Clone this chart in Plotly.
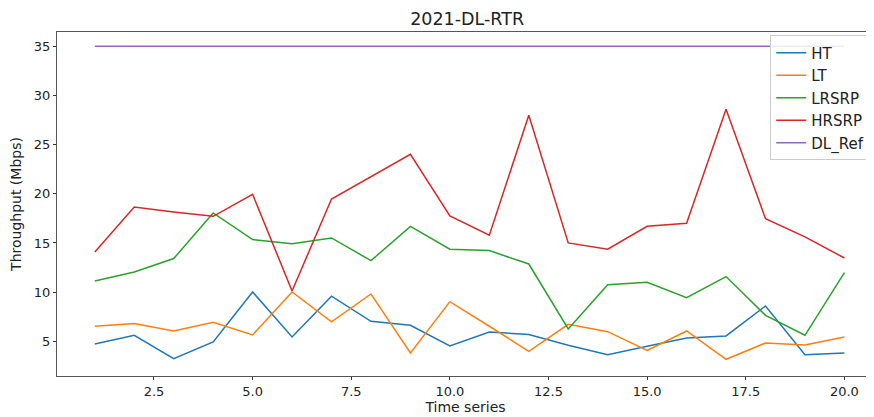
"""
Recreate the 2021-DL-RTR throughput line chart with Plotly.
"""

import plotly.graph_objects as go

time_series = list(range(1, 21))

ht = [4.73, 5.61, 3.24, 4.93, 10.02, 5.44, 9.58, 7.03, 6.63, 4.53,
      5.95, 5.68, 4.6, 3.64, 4.49, 5.34, 5.54, 8.59, 3.64, 3.82]
lt = [6.53, 6.8, 6.05, 6.93, 5.65, 10.02, 6.97, 9.81, 3.82, 9.03,
      6.53, 3.98, 6.73, 5.98, 4.08, 6.05, 3.17, 4.83, 4.63, 5.44]
lrsrp = [11.13, 12.05, 13.41, 18.05, 15.34, 14.93, 15.51, 13.2, 16.69, 14.36,
         14.22, 12.86, 6.25, 10.76, 11.0, 9.44, 11.58, 7.64, 5.61, 11.98]
hrsrp = [14.08, 18.66, 18.15, 17.71, 19.95, 10.12, 19.47, 21.78, 24.02, 17.74,
         15.78, 27.98, 15.0, 14.36, 16.69, 17.0, 28.59, 17.47, 15.61, 13.47]
dl_ref = [35] * 20

series = [
    ("HT", ht, "#1f77b4"),
    ("LT", lt, "#ff7f0e"),
    ("LRSRP", lrsrp, "#2ca02c"),
    ("HRSRP", hrsrp, "#d62728"),
    ("DL_Ref", dl_ref, "#9467bd"),
]

FONT = "DejaVu Sans"

fig = go.Figure()
for name, values, color in series:
    fig.add_trace(
        go.Scatter(
            x=time_series,
            y=values,
            mode="lines",
            name=name,
            line={"color": color, "width": 1.5},
        )
    )

axis_common = {
    "showgrid": False,
    "zeroline": False,
    "showline": True,
    "linecolor": "#555555",
    "linewidth": 1,
    "ticks": "outside",
    "ticklen": 3,
    "tickcolor": "#333333",
    "tickfont": {"size": 13, "color": "#222222"},
    "automargin": False,
}

# the page body keeps its default 8px margin, so the figure is 8px smaller
fig.update_layout(
    width=866,
    height=409,
    plot_bgcolor="white",
    paper_bgcolor="white",
    font={"family": FONT, "color": "#222222"},
    margin={"l": 49, "r": 0, "t": 24, "b": 41},
    title={
        "text": "2021-DL-RTR",
        "x": 0.502,
        "xref": "paper",
        "xanchor": "center",
        "y": 0.973,
        "yanchor": "middle",
        "font": {"size": 17.5, "color": "#222222"},
    },
    xaxis={
        **axis_common,
        "mirror": True,
        "range": [0.042, 20.75],
        "tickvals": [2.5, 5, 7.5, 10, 12.5, 15, 17.5, 20],
        "tickformat": ".1f",
        "title": {"text": "Time series", "font": {"size": 14}, "standoff": 3},
    },
    yaxis={
        **axis_common,
        "range": [1.47, 36.45],
        "tickvals": [5, 10, 15, 20, 25, 30, 35],
        "title": {"text": "Throughput (Mbps)", "font": {"size": 14}, "standoff": 8},
    },
    legend={
        "x": 0.873,
        "y": 0.99,
        "xanchor": "left",
        "yanchor": "top",
        "bgcolor": "rgba(255,255,255,0.85)",
        "bordercolor": "#cccccc",
        "borderwidth": 1,
        "font": {"size": 15},
        "itemwidth": 30,
        "tracegroupgap": 0,
    },
)

fig.write_html("out.html")
